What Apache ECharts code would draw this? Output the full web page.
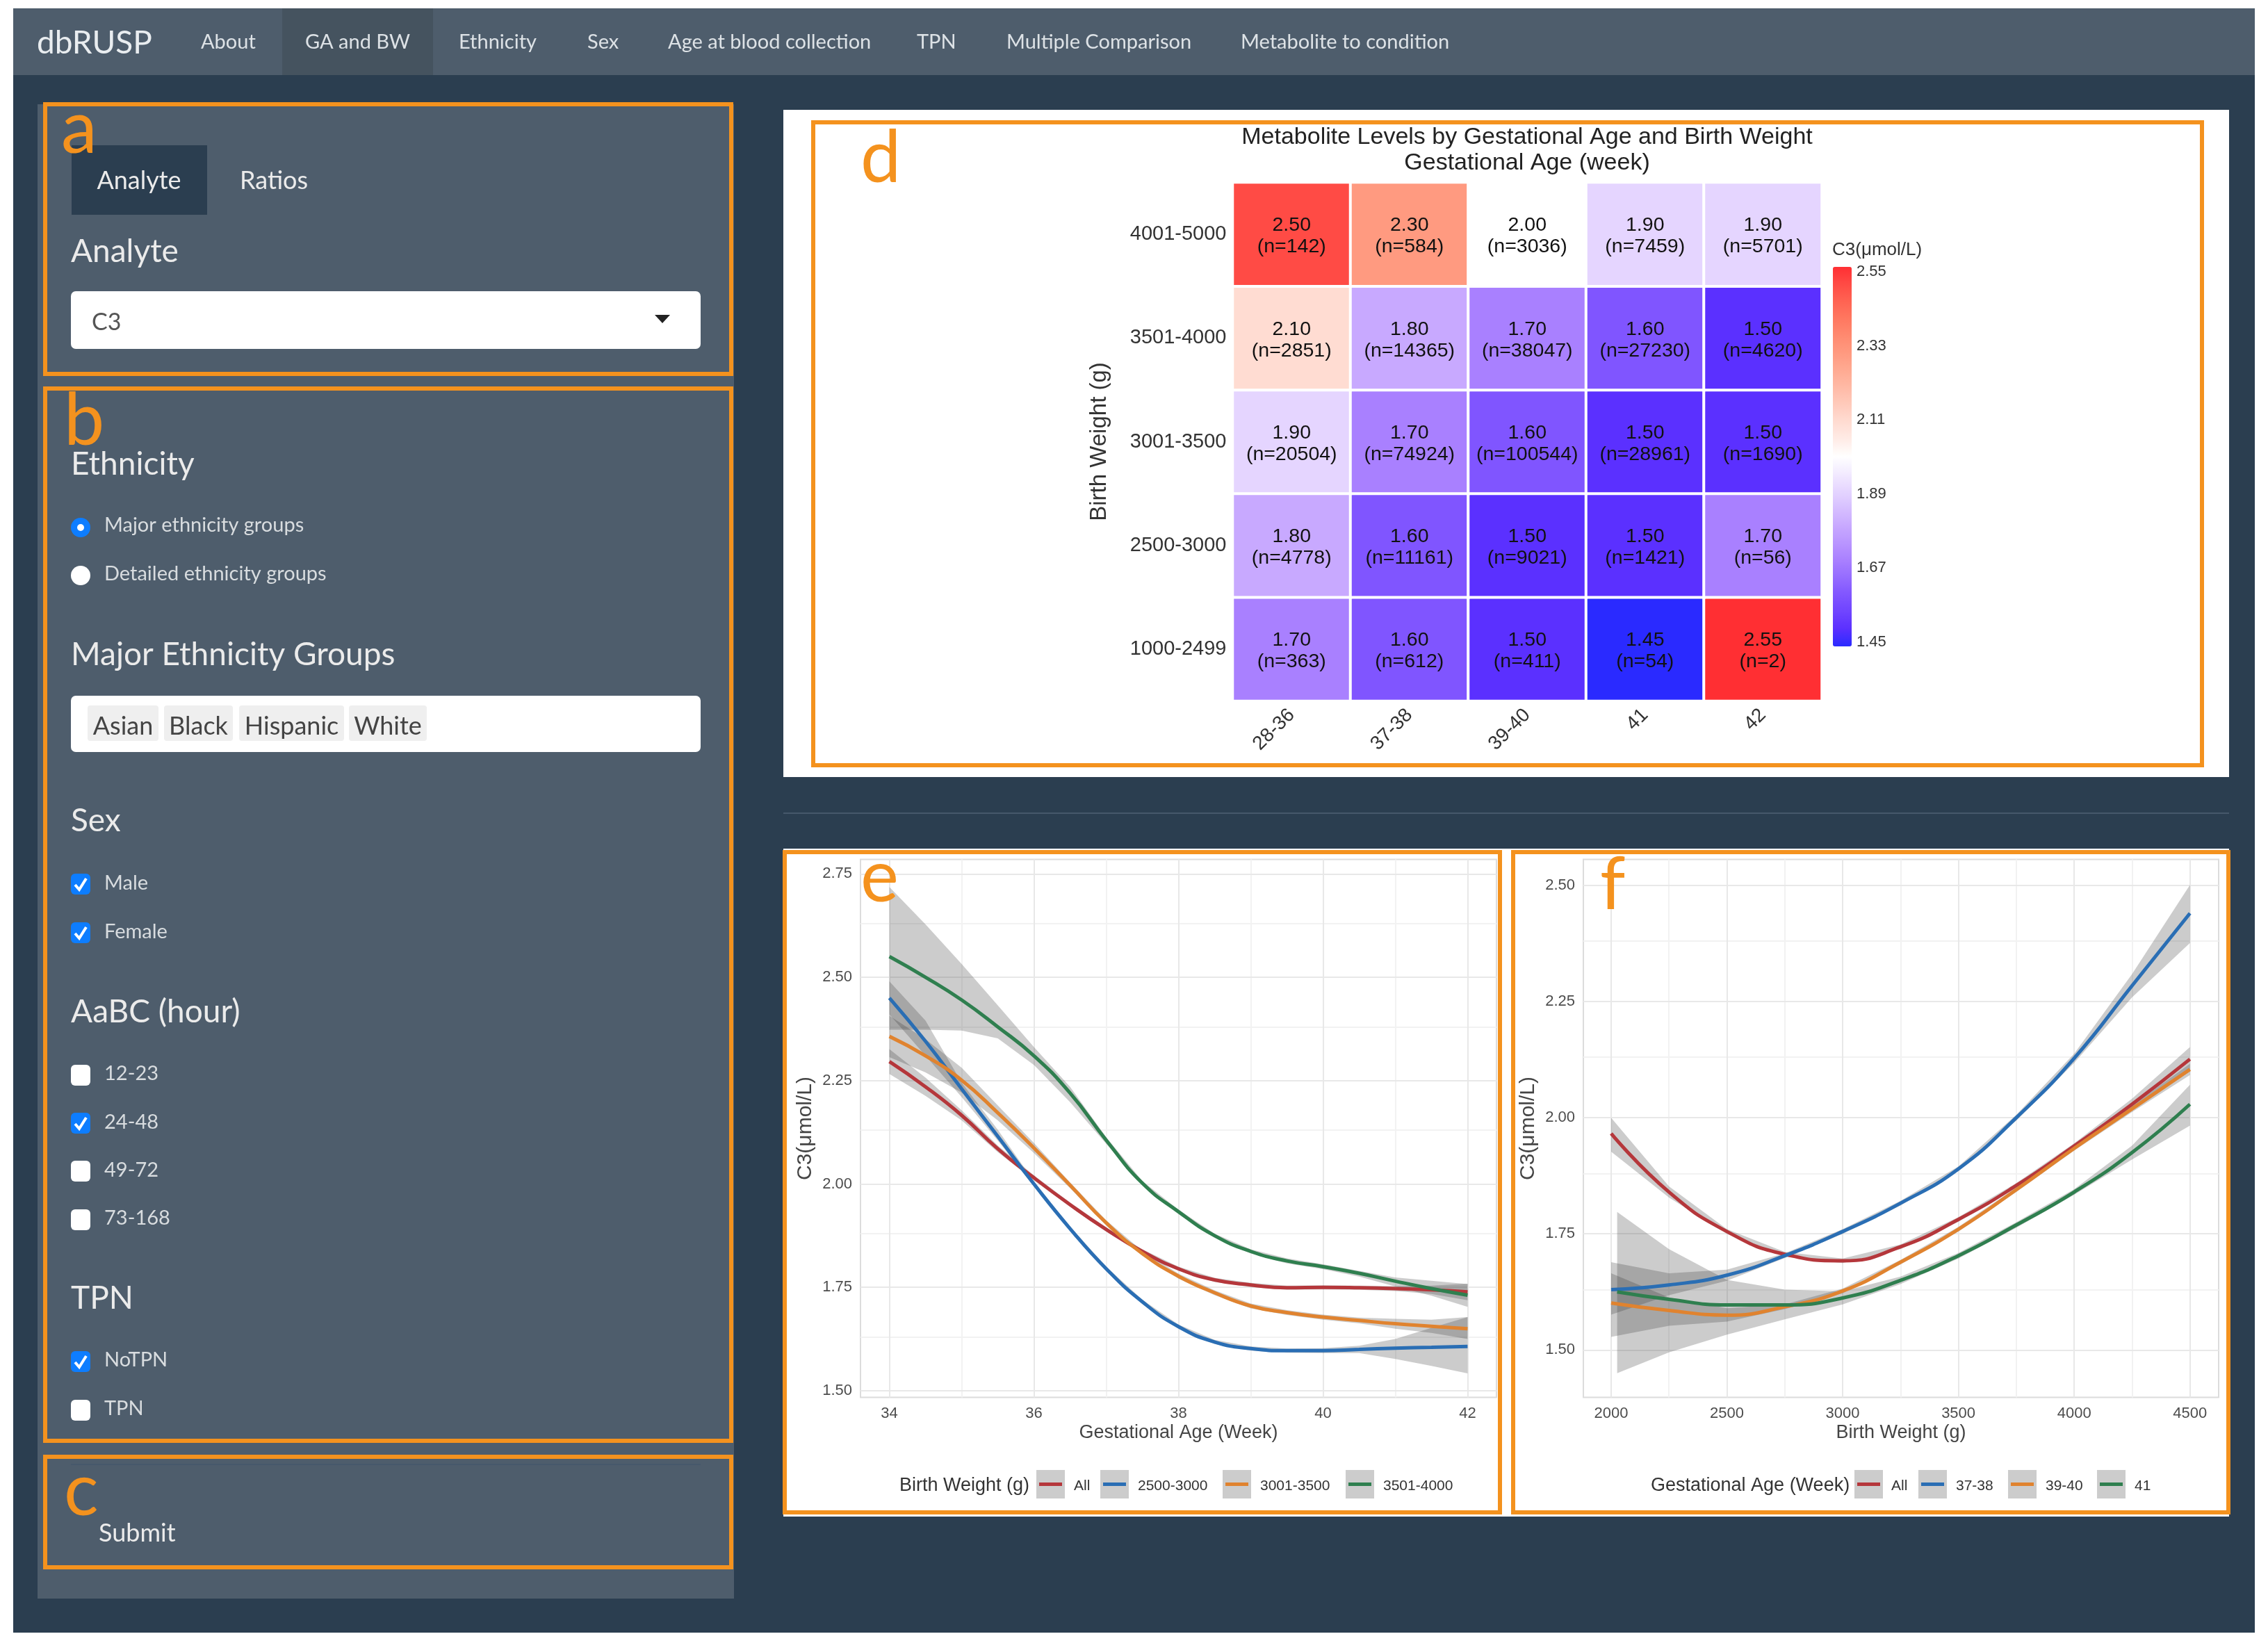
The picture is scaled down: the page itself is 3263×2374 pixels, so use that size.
<!DOCTYPE html>
<html lang="en" style="height: 100%">
<head>
  <meta charset="utf-8">
  <title>dbRUSP</title>
</head>
<body style="height: 100%; margin: 0; background: #fff">
  <div id="container" style="width: 3263px; height: 2374px"></div>
  <script src="https://cdn.jsdelivr.net/npm/echarts@6/dist/echarts.min.js"></script>
  <script>
    // heatmap (panel d)
    var gaLabels = ['28-36', '37-38', '39-40', '41', '42'];
    var bwLabels = ['1000-2499', '2500-3000', '3001-3500', '3501-4000', '4001-5000'];
    var meanRows = [
      [1.70, 1.60, 1.50, 1.45, 2.55],
      [1.80, 1.60, 1.50, 1.50, 1.70],
      [1.90, 1.70, 1.60, 1.50, 1.50],
      [2.10, 1.80, 1.70, 1.60, 1.50],
      [2.50, 2.30, 2.00, 1.90, 1.90]
    ];
    var countRows = [
      [363, 612, 411, 54, 2],
      [4778, 11161, 9021, 1421, 56],
      [20504, 74924, 100544, 28961, 1690],
      [2851, 14365, 38047, 27230, 4620],
      [142, 584, 3036, 7459, 5701]
    ];
    var scaleTicks = [1.45, 1.67, 1.89, 2.11, 2.33, 2.55];
    // one colour per 0.05 from 1.45 to 2.55
    var scaleColors = ['#2a2aff', '#5b30ff', '#6f44ff', '#8055ff', '#956cff', '#a980ff', '#b995ff', '#c8a9ff',
      '#d6bfff', '#e5d5ff', '#f2eaff', '#ffffff', '#ffece6', '#ffdcd2', '#ffcbbc', '#ffbaa6', '#ffaa92',
      '#ff9a80', '#ff8a70', '#ff7860', '#ff6352', '#ff4b45', '#ff2f33'];

    // panel e: C3 by gestational age
    var gaWeeks = [34, 34.5, 35, 35.5, 36, 36.5, 37, 37.5, 38, 38.5, 39, 39.5, 40, 40.5, 41, 41.5, 42];
    var gaAll = [2.296, 2.235, 2.166, 2.085, 2.015, 1.95, 1.89, 1.837, 1.795, 1.768, 1.756, 1.749, 1.75, 1.749, 1.747, 1.744, 1.739];
    var gaAllLo = [2.266, 2.213, 2.154, 2.077, 2.009, 1.945, 1.885, 1.832, 1.79, 1.763, 1.751, 1.744, 1.745, 1.744, 1.741, 1.734, 1.719];
    var gaAllHi = [2.326, 2.257, 2.178, 2.093, 2.021, 1.955, 1.895, 1.842, 1.8, 1.773, 1.761, 1.754, 1.755, 1.754, 1.753, 1.754, 1.759];
    var ga2500 = [2.45, 2.345, 2.23, 2.115, 2.0, 1.892, 1.795, 1.715, 1.655, 1.618, 1.602, 1.597, 1.597, 1.6, 1.603, 1.605, 1.607];
    var ga2500Lo = [2.41, 2.31, 2.21, 2.105, 1.994, 1.887, 1.79, 1.71, 1.65, 1.613, 1.597, 1.592, 1.591, 1.591, 1.577, 1.56, 1.542];
    var ga2500Hi = [2.49, 2.395, 2.245, 2.131, 2.006, 1.897, 1.8, 1.72, 1.66, 1.623, 1.607, 1.602, 1.603, 1.609, 1.625, 1.652, 1.678];
    var ga3001 = [2.357, 2.31, 2.251, 2.172, 2.087, 1.997, 1.906, 1.832, 1.777, 1.737, 1.705, 1.689, 1.678, 1.67, 1.662, 1.656, 1.65];
    var ga3001Lo = [2.307, 2.27, 2.221, 2.154, 2.075, 1.99, 1.9, 1.826, 1.771, 1.731, 1.699, 1.683, 1.672, 1.663, 1.65, 1.64, 1.625];
    var ga3001Hi = [2.407, 2.35, 2.281, 2.19, 2.099, 2.004, 1.912, 1.838, 1.783, 1.743, 1.711, 1.695, 1.684, 1.677, 1.674, 1.672, 1.678];
    var ga3501 = [2.55, 2.5, 2.445, 2.38, 2.31, 2.22, 2.106, 2.002, 1.933, 1.875, 1.837, 1.814, 1.8, 1.784, 1.765, 1.747, 1.731];
    var ga3501Lo = [2.373, 2.373, 2.371, 2.352, 2.288, 2.198, 2.097, 1.997, 1.928, 1.87, 1.832, 1.808, 1.794, 1.776, 1.752, 1.73, 1.703];
    var ga3501Hi = [2.718, 2.628, 2.532, 2.432, 2.331, 2.235, 2.113, 2.007, 1.938, 1.88, 1.842, 1.82, 1.806, 1.79, 1.774, 1.766, 1.758];

    // panel f: C3 by birth weight
    var bwGrams = [2000, 2250, 2500, 2750, 3000, 3250, 3500, 3750, 4000, 4250, 4500];
    var bwGrams41 = [2026, 2250, 2500, 2750, 3000, 3250, 3500, 3750, 4000, 4250, 4500];
    var bwAll = [1.966, 1.84, 1.755, 1.706, 1.692, 1.722, 1.781, 1.854, 1.939, 2.029, 2.126];
    var bwAllLo = [1.927, 1.828, 1.75, 1.701, 1.687, 1.717, 1.776, 1.849, 1.933, 2.017, 2.1];
    var bwAllHi = [2.0, 1.852, 1.76, 1.711, 1.697, 1.727, 1.786, 1.859, 1.945, 2.041, 2.152];
    var bw3738 = [1.63, 1.64, 1.661, 1.703, 1.755, 1.816, 1.89, 2.0, 2.128, 2.284, 2.44];
    var bw3738Lo = [1.576, 1.618, 1.649, 1.698, 1.75, 1.811, 1.885, 1.994, 2.118, 2.259, 2.376];
    var bw3738Hi = [1.689, 1.665, 1.673, 1.708, 1.76, 1.821, 1.895, 2.006, 2.138, 2.309, 2.501];
    var bw3940 = [1.601, 1.585, 1.575, 1.593, 1.627, 1.689, 1.76, 1.845, 1.934, 2.019, 2.104];
    var bw3940Lo = [1.528, 1.552, 1.561, 1.588, 1.622, 1.684, 1.755, 1.84, 1.929, 2.012, 2.092];
    var bw3940Hi = [1.665, 1.613, 1.59, 1.598, 1.632, 1.694, 1.765, 1.85, 1.939, 2.026, 2.116];
    var bw41 = [1.625, 1.609, 1.597, 1.597, 1.612, 1.65, 1.703, 1.769, 1.84, 1.925, 2.029];
    var bw41Lo = [1.45, 1.495, 1.533, 1.566, 1.598, 1.642, 1.697, 1.763, 1.834, 1.91, 1.983];
    var bw41Hi = [1.797, 1.717, 1.651, 1.63, 1.626, 1.658, 1.709, 1.775, 1.846, 1.94, 2.071];

    // grid lines of the two smooth plots
    var gaMajor = [34, 36, 38, 40, 42];
    var gaMinor = [35, 37, 39, 41];
    var gaYMajor = [1.5, 1.75, 2, 2.25, 2.5, 2.75];
    var gaYMinor = [1.625, 1.875, 2.125, 2.375, 2.625];
    var bwMajor = [2000, 2500, 3000, 3500, 4000, 4500];
    var bwMinor = [2250, 2750, 3250, 3750, 4250];
    var bwYMajor = [1.5, 1.75, 2, 2.25, 2.5];
    var bwYMinor = [1.625, 1.875, 2.125, 2.375];

    var navItems = ['About', 'GA and BW', 'Ethnicity', 'Sex', 'Age at blood collection', 'TPN', 'Multiple Comparison', 'Metabolite to condition'];
    var ethnicityTags = ['Asian', 'Black', 'Hispanic', 'White'];

    var RED = '#b5373b', BLUE = '#2a6eb4', ORANGE = '#e0832f', GREEN = '#2f7f4f';
    var SANS = '"Liberation Sans", Arial, sans-serif';
    var UI = 'Lato, "Open Sans", sans-serif';
    var BOX = '#f4921e';

    var dom = document.getElementById('container');
    var myChart = echarts.init(dom, null, { renderer: 'canvas' });

    // page furniture, all drawn as graphic elements
    var g = [];
    function rect(x, y, w, h, fill, r, z) {
      g.push({ type: 'rect', z: z === undefined ? -10 : z, silent: true, shape: { x: x, y: y, width: w, height: h, r: r || 0 }, style: { fill: fill } });
    }
    function frame(x0, y0, x1, y1) {
      g.push({ type: 'rect', z: 50, silent: true, shape: { x: x0, y: y0, width: x1 - x0, height: y1 - y0 }, style: { fill: 'none', stroke: BOX, lineWidth: 6 } });
    }
    function text(s, x, y, size, fill, opt) {
      opt = opt || {};
      g.push({
        type: 'text', z: 60, silent: true,
        style: { text: s, x: x, y: y, fill: fill, align: opt.align || 'left', verticalAlign: 'middle', font: (opt.weight || 'normal') + ' ' + size + 'px ' + (opt.family || UI) }
      });
    }
    function ui(s, x, y, size, fill, opt) { text(s, x, y + 2, size, fill, opt); }
    function letter(s, x, y) { text(s, x, y, 104, BOX, { family: UI }); }
    function checkbox(x, y, on) {
      rect(x - 14, y - 15, 28, 30, on ? '#0d7dff' : '#ffffff', 6, 40);
      if (on) {
        g.push({ type: 'polyline', z: 41, silent: true, shape: { points: [[x - 8, y + 1], [x - 2, y + 8], [x + 8, y - 8]] }, style: { stroke: '#fff', lineWidth: 4, fill: 'none' } });
      }
    }
    function radio(x, y, on) {
      g.push({ type: 'circle', z: 40, silent: true, shape: { cx: x, cy: y, r: 14 }, style: { fill: on ? '#0d7dff' : '#fff' } });
      if (on) g.push({ type: 'circle', z: 41, silent: true, shape: { cx: x, cy: y, r: 5 }, style: { fill: '#fff' } });
    }
    function legendKey(x, color, label, lx) {
      rect(x, 2115, 41, 41, '#cccccc', 0, 40);
      g.push({ type: 'line', z: 41, silent: true, shape: { x1: x + 4, y1: 2135.5, x2: x + 37, y2: 2135.5 }, style: { stroke: color, lineWidth: 5 } });
      text(label, lx, 2138, 21, '#333', { family: SANS });
    }

    // backgrounds
    rect(19, 12, 3225, 2337, '#2b3e50');
    rect(19, 12, 3225, 96, '#4e5d6c');
    rect(406, 12, 217, 96, '#45535f');
    rect(54, 150, 1002, 2150, '#4e5d6c');
    rect(1127, 158, 2080, 960, '#ffffff');
    rect(1127, 1221, 2080, 961, '#ffffff');
    rect(1127, 1169, 2080, 2, '#46586b');

    // navbar
    text('dbRUSP', 53, 62, 46, '#e9edf0');
    var navX = [289, 439, 660, 845, 961, 1319, 1448, 1785];
    navItems.forEach(function (s, i) { text(s, navX[i], 61, 29, '#dde2e6'); });

    // sidebar
    rect(103, 209, 195, 100, '#2b3e50', 0, -5);
    ui('Analyte', 200, 258, 36, '#ebebeb', { align: 'center' });
    ui('Ratios', 345, 258, 36, '#ebebeb');
    ui('Analyte', 102, 360, 46, '#ebebeb');
    rect(102, 419, 906, 83, '#ffffff', 7, -5);
    ui('C3', 132, 462, 34, '#555');
    g.push({ type: 'polygon', z: 40, silent: true, shape: { points: [[942, 453], [964, 453], [953, 465]] }, style: { fill: '#222' } });

    ui('Ethnicity', 102, 666, 46, '#ebebeb');
    radio(116, 759, true);
    ui('Major ethnicity groups', 150, 754, 29, '#d8dcdf');
    radio(116, 828, false);
    ui('Detailed ethnicity groups', 150, 824, 29, '#d8dcdf');

    ui('Major Ethnicity Groups', 102, 940, 46, '#ebebeb');
    rect(102, 1001, 906, 81, '#ffffff', 7, -5);
    var tagX = [[126, 228], [236, 335], [344, 495], [502, 614]];
    ethnicityTags.forEach(function (s, i) {
      rect(tagX[i][0], 1015, tagX[i][1] - tagX[i][0], 51, '#efefef', 4, 30);
      ui(s, (tagX[i][0] + tagX[i][1]) / 2, 1043, 36, '#444', { align: 'center' });
    });

    ui('Sex', 102, 1179, 46, '#ebebeb');
    checkbox(116, 1272, true); ui('Male', 150, 1269, 29, '#d8dcdf');
    checkbox(116, 1342, true); ui('Female', 150, 1339, 29, '#d8dcdf');

    ui('AaBC (hour)', 102, 1454, 46, '#ebebeb');
    checkbox(116, 1547, false); ui('12-23', 150, 1543, 29, '#d8dcdf');
    checkbox(116, 1616, true); ui('24-48', 150, 1613, 29, '#d8dcdf');
    checkbox(116, 1685, false); ui('49-72', 150, 1682, 29, '#d8dcdf');
    checkbox(116, 1755, false); ui('73-168', 150, 1751, 29, '#d8dcdf');

    ui('TPN', 102, 1866, 46, '#ebebeb');
    checkbox(116, 1959, true); ui('NoTPN', 150, 1955, 29, '#d8dcdf');
    checkbox(116, 2029, false); ui('TPN', 150, 2025, 29, '#d8dcdf');

    rect(102, 2106, 906, 2, '#46586b', 0, -5);
    ui('Submit', 142, 2204, 36, '#ebebeb');

    // orange panel frames and their letters
    frame(65, 150, 1052, 538);
    frame(65, 559, 1052, 2073);
    frame(65, 2096, 1052, 2255);
    frame(1170, 176, 3168, 1101);
    frame(1129, 1226, 2158, 2176);
    frame(2177, 1226, 3206, 2176);
    letter('a', 88, 186);
    letter('b', 92, 606);
    letter('c', 92, 2146);
    letter('d', 1238, 228);
    letter('e', 1238, 1263);
    letter('f', 2302, 1274);

    // colour bar title and legends
    text('C3(\u03bcmol/L)', 2636, 360, 26, '#333', { family: SANS });
    text('Birth Weight (g)', 1294, 2138, 27, '#333', { family: SANS });
    legendKey(1491, RED, 'All', 1545);
    legendKey(1583, BLUE, '2500-3000', 1637);
    legendKey(1759, ORANGE, '3001-3500', 1813);
    legendKey(1936, GREEN, '3501-4000', 1990);
    text('Gestational Age (Week)', 2375, 2138, 27, '#333', { family: SANS });
    legendKey(2668, RED, 'All', 2721);
    legendKey(2760, BLUE, '37-38', 2814);
    legendKey(2889, ORANGE, '39-40', 2943);
    legendKey(3017, GREEN, '41', 3071);

    // series helpers
    function bandSeries(xs, lo, hi, axis) {
      return {
        type: 'custom', xAxisIndex: axis, yAxisIndex: axis, silent: true, z: 2, clip: true,
        data: [[xs[0], lo[0]]],
        renderItem: function (params, api) {
          var pts = [];
          xs.forEach(function (x, i) { pts.push(api.coord([x, hi[i]])); });
          for (var i = xs.length - 1; i >= 0; i--) pts.push(api.coord([xs[i], lo[i]]));
          return { type: 'polygon', shape: { points: pts }, style: { fill: 'rgba(51,51,51,0.25)' } };
        }
      };
    }
    function lineSeries(name, xs, ys, color, axis) {
      return {
        name: name, type: 'line', xAxisIndex: axis, yAxisIndex: axis, z: 3, silent: true,
        showSymbol: false, smooth: 0.5,
        lineStyle: { color: color, width: 5 },
        data: xs.map(function (x, i) { return [x, ys[i]]; })
      };
    }
    function gridSeries(xs, ys, axis, color) {
      return {
        type: 'line', xAxisIndex: axis, yAxisIndex: axis, z: 1, silent: true, data: [],
        markLine: {
          silent: true, symbol: 'none', z: 1, label: { show: false },
          lineStyle: { color: color, width: 2, type: 'solid' },
          data: xs.map(function (v) { return { xAxis: v }; }).concat(ys.map(function (v) { return { yAxis: v }; }))
        }
      };
    }
    function plotX(min, max, name, ticks, axisGrid, gap) {
      return {
        type: 'value', gridIndex: axisGrid, min: min, max: max, name: name, nameLocation: 'middle', nameGap: gap,
        nameTextStyle: { fontSize: 27, color: '#444', fontFamily: SANS },
        axisLine: { show: false }, axisTick: { show: false }, splitLine: { show: false },
        axisLabel: { customValues: ticks, fontSize: 22, color: '#4d4d4d', fontFamily: SANS, margin: 12,
          formatter: function (v) { return String(v); } }
      };
    }
    function plotY(min, max, ticks, axisGrid) {
      return {
        type: 'value', gridIndex: axisGrid, min: min, max: max, name: 'C3(\u03bcmol/L)', nameLocation: 'middle', nameGap: 64,
        nameTextStyle: { fontSize: 30, color: '#444', fontFamily: SANS },
        axisLine: { show: false }, axisTick: { show: false }, splitLine: { show: false },
        axisLabel: { customValues: ticks, fontSize: 22, color: '#4d4d4d', fontFamily: SANS, margin: 12, padding: [3, 0, 0, 0],
          formatter: function (v) { return v.toFixed(2); } }
      };
    }

    var heatData = [];
    meanRows.forEach(function (row, y) {
      row.forEach(function (v, x) { heatData.push([x, y, v, countRows[y][x]]); });
    });

    var option = {
      animation: false,
      title: {
        text: 'Metabolite Levels by Gestational Age and Birth Weight\nGestational Age (week)',
        left: 2192, top: 174, textAlign: 'center',
        textStyle: { fontSize: 34, fontWeight: 'normal', color: '#222', fontFamily: SANS, lineHeight: 37 }
      },
      graphic: { elements: g },
      grid: [
        { left: 1773.5, top: 262.5, width: 847.5, height: 746 },
        { left: 2637, top: 391, width: 27, height: 533 },
        { left: 1238, top: 1236.5, width: 915, height: 774, show: true, borderColor: '#dcdcdc', borderWidth: 2, backgroundColor: 'transparent' },
        { left: 2278, top: 1236.5, width: 914, height: 774, show: true, borderColor: '#dcdcdc', borderWidth: 2, backgroundColor: 'transparent' }
      ],
      xAxis: [
        {
          type: 'category', gridIndex: 0, data: gaLabels,
          axisLine: { show: false }, axisTick: { show: false }, splitLine: { show: false },
          axisLabel: { rotate: 45, fontSize: 28, color: '#333', fontFamily: SANS, margin: 16 }
        },
        { type: 'value', gridIndex: 1, min: 0, max: 1, show: false },
        plotX(33.6, 42.4, 'Gestational Age (Week)', gaMajor, 2, 38),
        plotX(1880, 4624, 'Birth Weight (g)', bwMajor, 3, 38)
      ],
      yAxis: [
        {
          type: 'category', gridIndex: 0, data: bwLabels,
          name: 'Birth Weight (g)', nameLocation: 'middle', nameGap: 175,
          nameTextStyle: { fontSize: 33, color: '#333', fontFamily: SANS },
          axisLine: { show: false }, axisTick: { show: false }, splitLine: { show: false },
          axisLabel: { fontSize: 29, color: '#333', fontFamily: SANS, margin: 9, padding: [10, 0, 0, 0] }
        },
        {
          type: 'value', gridIndex: 1, position: 'right', min: 1.45, max: 2.55,
          axisLine: { show: false }, axisTick: { show: false }, splitLine: { show: false },
          axisLabel: { customValues: scaleTicks, fontSize: 22, color: '#333', fontFamily: SANS, margin: 7,
            formatter: function (v) { return v.toFixed(2); } }
        },
        plotY(1.484, 2.785, gaYMajor, 2),
        plotY(1.398, 2.556, bwYMajor, 3)
      ],
      visualMap: {
        type: 'continuous', min: 1.45, max: 2.55, seriesIndex: 0, dimension: 2, hoverLink: false,
        left: 2637, top: 384, itemWidth: 27, itemHeight: 546, padding: 0, text: null,
        inRange: { color: scaleColors }
      },
      series: [
        {
          type: 'heatmap', xAxisIndex: 0, yAxisIndex: 0, silent: true, data: heatData,
          itemStyle: { borderColor: '#fff', borderWidth: 4 },
          label: {
            show: true, fontSize: 28.5, lineHeight: 31, color: '#111', fontFamily: SANS, offset: [0, 3],
            formatter: function (p) { return p.value[2].toFixed(2) + '\n(n=' + p.value[3] + ')'; }
          }
        },
        gridSeries(gaMinor, gaYMinor, 2, '#f2f2f2'),
        gridSeries(gaMajor, gaYMajor, 2, '#e8e8e8'),
        bandSeries(gaWeeks, gaAllLo, gaAllHi, 2),
        bandSeries(gaWeeks, ga2500Lo, ga2500Hi, 2),
        bandSeries(gaWeeks, ga3001Lo, ga3001Hi, 2),
        bandSeries(gaWeeks, ga3501Lo, ga3501Hi, 2),
        lineSeries('All', gaWeeks, gaAll, RED, 2),
        lineSeries('2500-3000', gaWeeks, ga2500, BLUE, 2),
        lineSeries('3001-3500', gaWeeks, ga3001, ORANGE, 2),
        lineSeries('3501-4000', gaWeeks, ga3501, GREEN, 2),
        gridSeries(bwMinor, bwYMinor, 3, '#f2f2f2'),
        gridSeries(bwMajor, bwYMajor, 3, '#e8e8e8'),
        bandSeries(bwGrams, bwAllLo, bwAllHi, 3),
        bandSeries(bwGrams, bw3738Lo, bw3738Hi, 3),
        bandSeries(bwGrams, bw3940Lo, bw3940Hi, 3),
        bandSeries(bwGrams41, bw41Lo, bw41Hi, 3),
        lineSeries('All', bwGrams, bwAll, RED, 3),
        lineSeries('37-38', bwGrams, bw3738, BLUE, 3),
        lineSeries('39-40', bwGrams, bw3940, ORANGE, 3),
        lineSeries('41', bwGrams41, bw41, GREEN, 3)
      ]
    };

    myChart.setOption(option);
    window.addEventListener('resize', myChart.resize);
  </script>
</body>
</html>
